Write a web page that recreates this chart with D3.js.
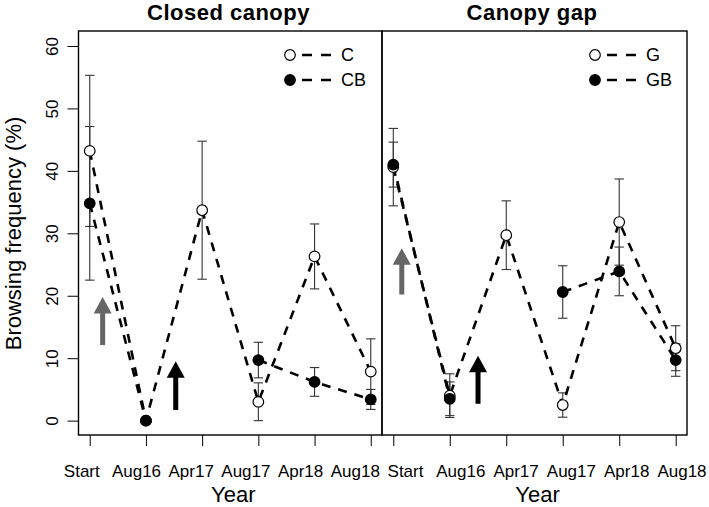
<!DOCTYPE html>
<html>
<head>
<meta charset="utf-8">
<script src="https://cdn.jsdelivr.net/npm/d3@7"></script>
<style>
  html, body { margin: 0; padding: 0; background: #fff; }
  svg { display: block; font-family: "Liberation Sans", Arial, sans-serif; }
</style>
</head>
<body>
<svg id="chart" width="709" height="507"></svg>
<script>
// ---- data ----
const categories = ["Start", "Aug16", "Apr17", "Aug17", "Apr18", "Aug18"];
const yTicks = [0, 10, 20, 30, 40, 50, 60];

const closedC    = [43.2, 0, 33.7, 3.0, 26.3, 7.85];
const closedCse  = [12.1, 0, 11.05, 3.05, 5.2, 5.25];
const closedCB   = [34.8, 0, null, 9.7, 6.2, 3.4];
const closedCBse = [12.3, 0, null, 2.85, 2.3, 1.6];

const gapG    = [40.6, 4.0, 29.7, 2.5, 31.8, 11.6];
const gapGse  = [6.2, 3.5, 5.5, 1.95, 6.9, 3.6];
const gapGB   = [41.0, 3.5, null, 20.6, 23.9, 9.7];
const gapGBse = [3.6, 2.7, null, 4.2, 3.9, 2.6];

// arrows: x index, y start, y tip
const closedArrows = [{x: 0.23, y0: 12.1, y1: 19.8, color: "#666"}, {x: 1.53, y0: 1.7, y1: 9.5, color: "#000"}];
const gapArrows    = [{x: 0.15, y0: 20.2, y1: 27.6, color: "#666"}, {x: 1.5, y0: 2.7, y1: 10.4, color: "#000"}];

const panels = [
  { title: "Closed canopy", x0: 78.5, x1: 382, titleX: 228.5, labelRange: [81.8, 355.3],
    series: [{name: "C", vals: closedC, se: closedCse, fill: "#fff"}, {name: "CB", vals: closedCB, se: closedCBse, fill: "#000"}],
    arrows: closedArrows, yAxis: true },
  { title: "Canopy gap", x0: 382, x1: 687, titleX: 532, labelRange: [405.5, 682],
    series: [{name: "G", vals: gapG, se: gapGse, fill: "#fff"}, {name: "GB", vals: gapGB, se: gapGBse, fill: "#000"}],
    arrows: gapArrows, yAxis: false }
];

const svg = d3.select("#chart");
const plotTop = 31, plotBottom = 435;
const y = d3.scaleLinear().domain([-2.3, 62.4]).range([plotBottom, plotTop]);

panels.forEach(p => {
  const x = d3.scaleLinear().domain([-0.2, 5.2]).range([p.x0, p.x1]);
  const lx = d3.scaleLinear().domain([0, 5]).range(p.labelRange);
  const g = svg.append("g");

  // title
  g.append("text").attr("x", p.titleX).attr("y", 20).attr("text-anchor", "middle")
    .attr("font-size", 22).attr("font-weight", "bold").attr("letter-spacing", 0.5).text(p.title);

  // x axis ticks
  const xa = g.append("g").attr("transform", `translate(0,${plotBottom})`)
    .call(d3.axisBottom(x).tickValues(d3.range(categories.length)).tickSize(11).tickFormat(""));
  xa.select(".domain").remove();
  xa.selectAll("line").attr("stroke", "#000").attr("stroke-width", 1);

  // x labels
  g.selectAll(".xl").data(categories).enter().append("text")
    .attr("x", (d, i) => lx(i)).attr("y", 477).attr("text-anchor", "middle")
    .attr("font-size", 17).attr("fill", "#000").text(d => d);

  // x title
  g.append("text").attr("x", (p.x0 + p.x1) / 2 + 3).attr("y", 502).attr("text-anchor", "middle")
    .attr("font-size", 22).text("Year");

  if (p.yAxis) {
    const ya = g.append("g").attr("transform", `translate(${p.x0},0)`)
      .call(d3.axisLeft(y).tickValues(yTicks).tickSize(11));
    ya.select(".domain").remove();
    ya.selectAll("line").attr("stroke", "#000").attr("stroke-width", 1);
    ya.selectAll("text").attr("transform", "rotate(-90)").attr("x", 0).attr("y", -20.5)
      .attr("dy", null).attr("text-anchor", "middle").attr("font-size", 17).attr("fill", "#000");
    ya.attr("font-family", null).attr("font-size", null);
    g.append("text").attr("transform", `translate(20.5,233.5) rotate(-90)`).attr("text-anchor", "middle")
      .attr("font-size", 22).text("Browsing frequency (%)");
  }

  // error bars
  p.series.forEach(s => {
    s.vals.forEach((v, i) => {
      if (v == null || !s.se[i]) return;
      const lo = Math.max(v - s.se[i], 0), hi = v + s.se[i];
      const eg = g.append("g").attr("stroke", "#333").attr("stroke-width", 1.1);
      eg.append("line").attr("x1", x(i)).attr("x2", x(i)).attr("y1", y(lo)).attr("y2", y(hi));
      eg.append("line").attr("x1", x(i) - 4.7).attr("x2", x(i) + 4.7).attr("y1", y(lo)).attr("y2", y(lo));
      eg.append("line").attr("x1", x(i) - 4.7).attr("x2", x(i) + 4.7).attr("y1", y(hi)).attr("y2", y(hi));
    });
  });

  // dashed lines
  const line = d3.line().defined(d => d[1] != null).x(d => x(d[0])).y(d => y(d[1]));
  p.series.forEach(s => {
    g.append("path").attr("d", line(s.vals.map((v, i) => [i, v])))
      .attr("fill", "none").attr("stroke", "#000").attr("stroke-width", 2.6)
      .attr("stroke-dasharray", "9,8");
  });

  // points
  p.series.forEach(s => {
    g.selectAll(null).data(s.vals.map((v, i) => [i, v]).filter(d => d[1] != null)).enter()
      .append("circle").attr("cx", d => x(d[0])).attr("cy", d => y(d[1])).attr("r", 5.3)
      .attr("fill", s.fill).attr("stroke", "#000").attr("stroke-width", 1.2);
  });

  // arrows
  p.arrows.forEach(a => {
    const ax = x(a.x), yb = y(a.y0), yt = y(a.y1);
    const headLen = 16.5, headW = 9;
    g.append("line").attr("x1", ax).attr("x2", ax).attr("y1", yb).attr("y2", yt + headLen - 1)
      .attr("stroke", a.color).attr("stroke-width", 5);
    g.append("path").attr("d", `M${ax},${yt} L${ax - headW},${yt + headLen} L${ax + headW},${yt + headLen} Z`)
      .attr("fill", a.color);
  });

  // legend
  const lgx = p.x1 - 92;
  p.series.forEach((s, k) => {
    const ly = 55 + k * 25;
    g.append("line").attr("x1", lgx + 12).attr("x2", lgx + 42).attr("y1", ly).attr("y2", ly)
      .attr("stroke", "#000").attr("stroke-width", 2.6).attr("stroke-dasharray", "10,9");
    g.append("circle").attr("cx", lgx).attr("cy", ly).attr("r", 5.3)
      .attr("fill", s.fill).attr("stroke", "#000").attr("stroke-width", 1.2);
    g.append("text").attr("x", lgx + 51).attr("y", ly + 6.4).attr("font-size", 18).text(s.name);
  });

  // box
  g.append("rect").attr("x", p.x0).attr("y", plotTop).attr("width", p.x1 - p.x0).attr("height", plotBottom - plotTop)
    .attr("fill", "none").attr("stroke", "#000").attr("stroke-width", 1.4);
});
</script>
</body>
</html>
